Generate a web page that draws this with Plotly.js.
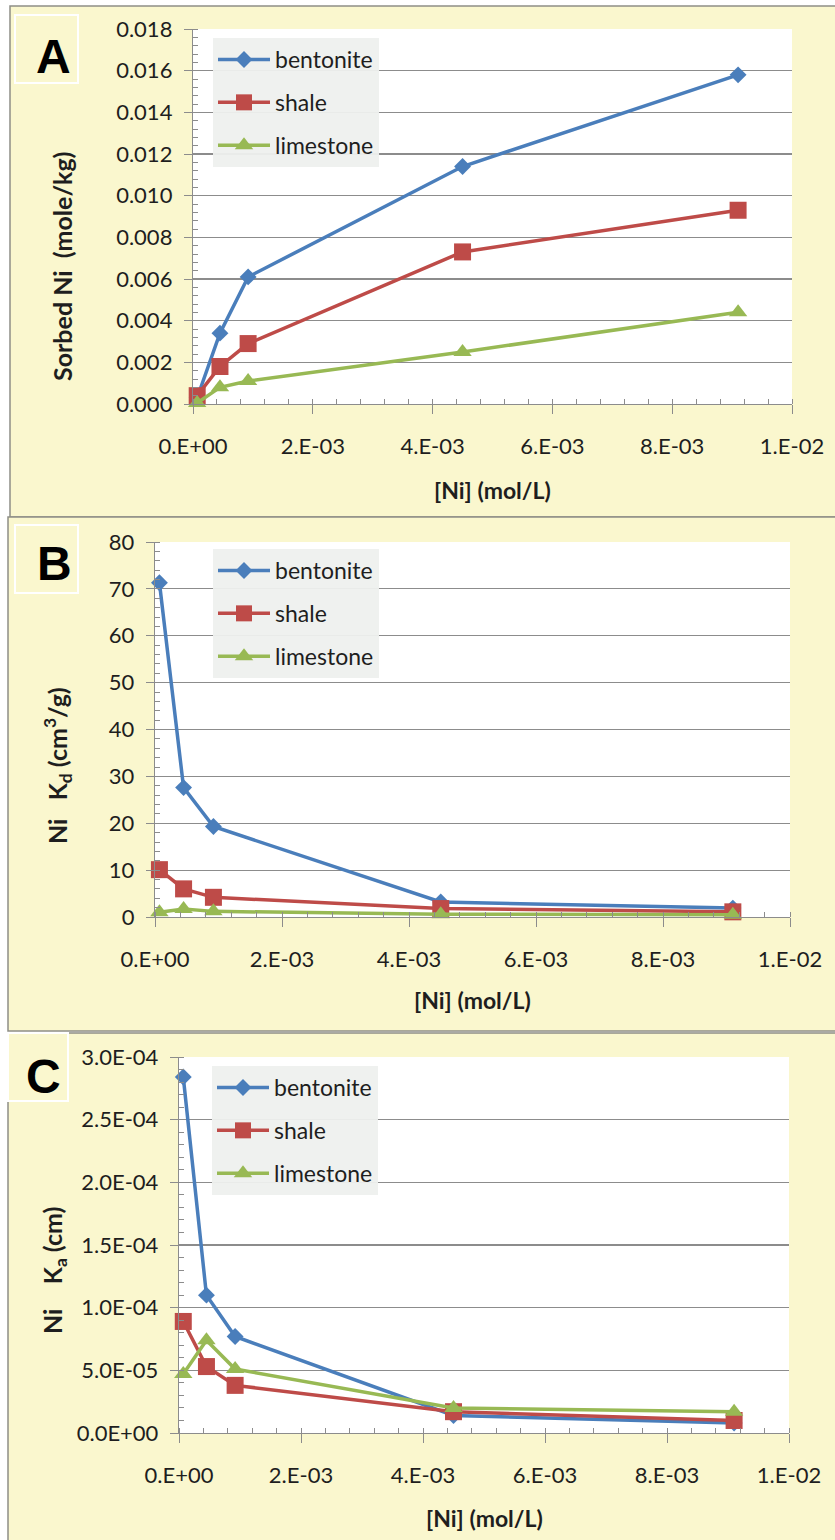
<!DOCTYPE html>
<html>
<head>
<meta charset="utf-8">
<script src="https://cdn.plot.ly/plotly-3.0.1.min.js"></script>
<style>html,body{margin:0;padding:0;background:#fff;}#chart{width:835px;height:1540px;}</style>
</head>
<body>
<div id="chart"></div>
<script>
// ---- data ----
const seriesNames = ['bentonite', 'shale', 'limestone'];
const niConc = [0.00007, 0.00045, 0.00092, 0.0045, 0.0091];

const sorbedBentonite = [0.0003, 0.0034, 0.0061, 0.0114, 0.0158];
const sorbedShale     = [0.0004, 0.0018, 0.0029, 0.0073, 0.0093];
const sorbedLimestone = [0.00005, 0.0008, 0.0011, 0.0025, 0.0044];

const kdBentonite = [71.3, 27.6, 19.3, 3.2, 1.9];
const kdShale     = [10.1, 6.0, 4.2, 1.8, 1.1];
const kdLimestone = [1.0, 1.7, 1.2, 0.6, 0.5];

const kaBentonite = [2.84e-4, 1.10e-4, 7.7e-5, 1.4e-5, 8e-6];
const kaShale     = [8.9e-5, 5.3e-5, 3.8e-5, 1.7e-5, 1.0e-5];
const kaLimestone = [4.7e-5, 7.4e-5, 5.1e-5, 2.0e-5, 1.7e-5];

const xTickVals = [0, 0.002, 0.004, 0.006, 0.008, 0.01];
const xTickText = ['0.E+00', '2.E-03', '4.E-03', '6.E-03', '8.E-03', '1.E-02'];
const yTickValsA = [0, 0.002, 0.004, 0.006, 0.008, 0.010, 0.012, 0.014, 0.016, 0.018];
const yTickTextA = ['0.000', '0.002', '0.004', '0.006', '0.008', '0.010', '0.012', '0.014', '0.016', '0.018'];
const yTickValsB = [0, 10, 20, 30, 40, 50, 60, 70, 80];
const yTickTextB = ['0', '10', '20', '30', '40', '50', '60', '70', '80'];
const yTickValsC = [0, 5e-5, 1e-4, 1.5e-4, 2e-4, 2.5e-4, 3e-4];
const yTickTextC = ['0.0E+00', '5.0E-05', '1.0E-04', '1.5E-04', '2.0E-04', '2.5E-04', '3.0E-04'];

const panelLetters = ['A', 'B', 'C'];
const xTitle = '[Ni] (mol/L)';
const yTitles = ['Sorbed Ni\u00a0\u00a0(mole/kg)', 'Ni\u00a0\u00a0\u00a0K<sub>d</sub> (cm<sup>3</sup>/g)', 'Ni\u00a0\u00a0\u00a0\u00a0K<sub>a</sub> (cm)'];

// ---- style ----
const W = 835, H = 1540;
const px = x => x / W;
const py = y => 1 - y / H;
const colors = ['#4a7ebb', '#be4b48', '#98b954'];
const symbols = ['diamond', 'square', 'triangle-up'];
const msizes = [13, 17, 16];
const FONT = 'Lato, "Open Sans", sans-serif';
const TXT = '#1e1e1e';
const GRID = '#8c8c8c';
const BG = 'rgb(250,247,206)';

// plot areas in px: [x0, x1, yTop, yBottom]
const areas = [
  [193, 792, 29, 404],
  [155, 790, 542, 917],
  [179, 789, 1057, 1433]
];
const yRanges = [[0, 0.018], [0, 80], [0, 3e-4]];
const yMinor = [0.0004, 2, 1e-5];
const yTicks = [[yTickValsA, yTickTextA], [yTickValsB, yTickTextB], [yTickValsC, yTickTextC]];
const panelData = [
  [sorbedBentonite, sorbedShale, sorbedLimestone],
  [kdBentonite, kdShale, kdLimestone],
  [kaBentonite, kaShale, kaLimestone]
];
const legendBoxes = [[213, 38], [213, 549], [212, 1066]];
const letterBoxes = [[15, 15, 78, 83], [15, 525, 78, 593], [8, 1033, 68, 1101]];
const letterPos = [[53, 56], [54, 563], [43, 1076]];
const yTitlePos = [[62, 267], [57, 766], [54, 1271]];
const xTitleY = [490, 1000, 1518];
const panels = [[10, 6, 517], [8, 517, 1031], [8, 1033, 1545]];

const traces = [];
const layout = {
  width: W, height: H,
  margin: {l: 0, r: 0, t: 0, b: 0},
  paper_bgcolor: '#ffffff',
  plot_bgcolor: '#ffffff',
  font: {family: FONT, size: 22, color: TXT},
  shapes: [], annotations: []
};

for (let p = 0; p < 3; p++) {
  const sfx = p === 0 ? '' : String(p + 1);
  const [x0, x1, yt, yb] = areas[p];
  const legName = 'legend' + sfx;
  for (let s = 0; s < 3; s++) {
    traces.push({
      type: 'scatter', mode: 'lines+markers',
      name: seriesNames[s],
      x: niConc, y: panelData[p][s],
      xaxis: 'x' + sfx, yaxis: 'y' + sfx,
      legend: legName, legendgroup: 'p' + p + 's' + s,
      line: {color: colors[s], width: 3.5},
      marker: {symbol: symbols[s], size: msizes[s], color: colors[s], line: {width: 0}},
      cliponaxis: false
    });
  }
  layout['xaxis' + sfx] = {
    domain: [px(x0), px(x1)], anchor: 'y' + sfx,
    range: [0, 0.01], tickmode: 'array', tickvals: xTickVals, ticktext: xTickText,
    ticks: 'outside', ticklen: 9, tickcolor: GRID, tickwidth: 1,
    minor: {dtick: 0.0004, ticks: 'inside', ticklen: 5, tickcolor: GRID, showgrid: false},
    ticklabelstandoff: 13,
    showline: true, linecolor: GRID, linewidth: 1.2,
    showgrid: false, zeroline: false,
    tickfont: {family: FONT, size: 22, color: TXT}
  };
  layout['yaxis' + sfx] = {
    domain: [py(yb), py(yt)], anchor: 'x' + sfx,
    range: yRanges[p], tickmode: 'array', tickvals: yTicks[p][0], ticktext: yTicks[p][1],
    ticks: 'outside', ticklen: 8, tickcolor: GRID, tickwidth: 1,
    minor: {dtick: yMinor[p], ticks: 'inside', ticklen: 5, tickcolor: GRID, showgrid: false},
    ticklabelstandoff: 7,
    showline: true, linecolor: GRID, linewidth: 1.2,
    showgrid: true, gridcolor: GRID, gridwidth: 1.2, zeroline: false,
    tickfont: {family: FONT, size: 22, color: TXT}
  };
  layout[legName] = {
    x: px(legendBoxes[p][0]), y: py(legendBoxes[p][1]),
    xanchor: 'left', yanchor: 'top',
    bgcolor: 'rgba(238,240,238,0.95)', borderwidth: 0,
    font: {family: FONT, size: 23, color: TXT},
    tracegroupgap: 10, itemwidth: 52,
    traceorder: 'grouped'
  };
  // panel background
  const [pl, ptop, pbot] = panels[p];
  layout.shapes.push({
    type: 'rect', xref: 'paper', yref: 'paper', layer: 'below',
    x0: px(pl), x1: px(W + 5), y0: py(pbot), y1: py(ptop),
    fillcolor: BG, line: {color: '#8e8e86', width: 1.5}
  });
  // white plot area
  layout.shapes.push({
    type: 'rect', xref: 'paper', yref: 'paper', layer: 'below',
    x0: px(x0), x1: px(x1), y0: py(yb), y1: py(yt),
    fillcolor: '#ffffff', line: {width: 0}
  });
  // letter box
  const lb = letterBoxes[p];
  layout.shapes.push({
    type: 'rect', xref: 'paper', yref: 'paper', layer: 'above',
    x0: px(lb[0]), x1: px(lb[2]), y0: py(lb[3]), y1: py(lb[1]),
    fillcolor: 'rgba(0,0,0,0)', line: {color: '#ffffff', width: 2}
  });
  layout.annotations.push({
    xref: 'paper', yref: 'paper', x: px(letterPos[p][0]), y: py(letterPos[p][1]),
    xanchor: 'center', yanchor: 'middle', showarrow: false,
    text: '<b>' + panelLetters[p] + '</b>',
    font: {family: 'Liberation Sans, Arial, sans-serif', size: 48, color: '#000'}
  });
  layout.annotations.push({
    xref: 'paper', yref: 'paper', x: px(yTitlePos[p][0]), y: py(yTitlePos[p][1]),
    xanchor: 'center', yanchor: 'middle', showarrow: false, textangle: -90,
    text: '<b>' + yTitles[p] + '</b>',
    font: {family: FONT, size: 25, color: TXT}
  });
  layout.annotations.push({
    xref: 'paper', yref: 'paper', x: px((x0 + x1) / 2), y: py(xTitleY[p]),
    xanchor: 'center', yanchor: 'middle', showarrow: false,
    text: '<b>' + xTitle + '</b>',
    font: {family: FONT, size: 23, color: TXT}
  });
}

Plotly.newPlot('chart', traces, layout, {staticPlot: true, displayModeBar: false});
</script>
</body>
</html>
